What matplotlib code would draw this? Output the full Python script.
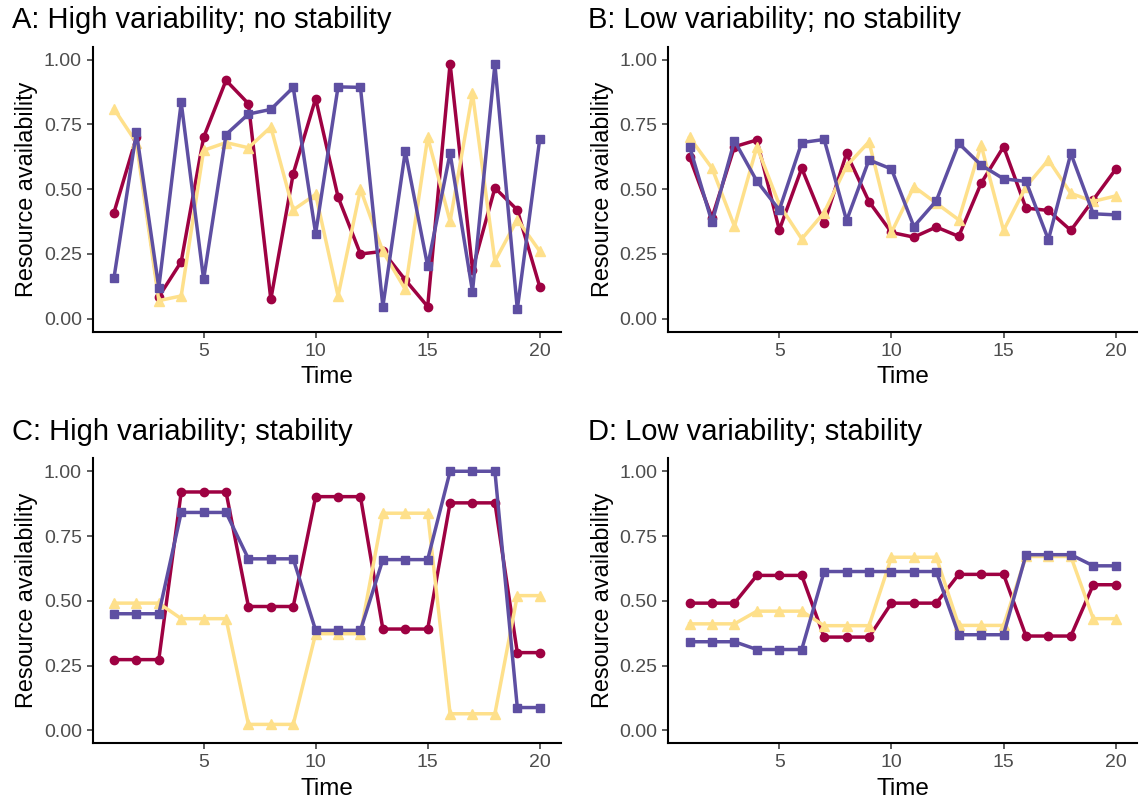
import numpy as np
import matplotlib.pyplot as plt

plt.rcParams['font.family'] = ['Liberation Sans', 'DejaVu Sans']

time = np.arange(1, 21)

# panel A: high variability, no stability
a_red = [0.41, 0.70, 0.085, 0.22, 0.70, 0.92, 0.83, 0.075, 0.56, 0.85,
         0.47, 0.25, 0.26, 0.15, 0.047, 0.985, 0.19, 0.505, 0.42, 0.124]
a_yellow = [0.81, 0.68, 0.07, 0.088, 0.65, 0.68, 0.66, 0.74, 0.42, 0.48,
            0.088, 0.50, 0.26, 0.113, 0.70, 0.376, 0.87, 0.222, 0.383, 0.261]
a_blue = [0.158, 0.72, 0.12, 0.835, 0.152, 0.711, 0.79, 0.808, 0.893, 0.329,
          0.895, 0.893, 0.047, 0.646, 0.203, 0.639, 0.105, 0.982, 0.037, 0.693]

# panel B: low variability, no stability
b_red = [0.623, 0.39, 0.664, 0.69, 0.343, 0.581, 0.369, 0.638, 0.452, 0.333,
         0.315, 0.354, 0.318, 0.523, 0.664, 0.427, 0.418, 0.341, 0.459, 0.577]
b_yellow = [0.70, 0.581, 0.357, 0.664, 0.44, 0.308, 0.41, 0.59, 0.683, 0.333,
            0.51, 0.446, 0.382, 0.67, 0.341, 0.51, 0.613, 0.484, 0.453, 0.474]
b_blue = [0.664, 0.372, 0.687, 0.531, 0.42, 0.68, 0.692, 0.379, 0.613, 0.578,
          0.356, 0.455, 0.677, 0.593, 0.54, 0.53, 0.305, 0.638, 0.405, 0.401]

# panel C: high variability, stability
c_red = [0.273] * 3 + [0.92] * 3 + [0.478] * 3 + [0.902] * 3 + [0.391] * 3 + [0.878] * 3 + [0.30] * 2
c_yellow = [0.491] * 3 + [0.431] * 3 + [0.023] * 3 + [0.373] * 3 + [0.838] * 3 + [0.064] * 3 + [0.52] * 2
c_blue = [0.45] * 3 + [0.841] * 3 + [0.662] * 3 + [0.386] * 3 + [0.659] * 3 + [1.00] * 3 + [0.088] * 2

# panel D: low variability, stability
d_red = [0.491] * 3 + [0.598] * 3 + [0.36] * 3 + [0.491] * 3 + [0.602] * 3 + [0.364] * 3 + [0.562] * 2
d_yellow = [0.411] * 3 + [0.46] * 3 + [0.404] * 3 + [0.668] * 3 + [0.405] * 3 + [0.671] * 3 + [0.431] * 2
d_blue = [0.342] * 3 + [0.312] * 3 + [0.613] * 6 + [0.369] * 3 + [0.678] * 3 + [0.635] * 2

titles = ["A: High variability; no stability", "B: Low variability; no stability",
          "C: High variability; stability", "D: Low variability; stability"]
panels = [(a_red, a_yellow, a_blue), (b_red, b_yellow, b_blue),
          (c_red, c_yellow, c_blue), (d_red, d_yellow, d_blue)]

RED = '#9E0142'
YELLOW = '#FEE08B'
BLUE = '#5E4FA2'

W, H = 1139, 807
fig = plt.figure(figsize=(W / 100, H / 100), dpi=100)

# panel boxes in pixels: left, top, right, bottom
boxes = [(92.7, 46.7, 561, 331.7), (668.3, 46.7, 1137, 331.7),
         (92.7, 458.3, 561, 743.3), (668.3, 458.3, 1137, 743.3)]
title_x = [12, 588]
title_y = [28.5, 440]

for i, (box, title, (r, yl, b)) in enumerate(zip(boxes, titles, panels)):
    l, t, rr, bt = box
    ax = fig.add_axes([l / W, 1 - bt / H, (rr - l) / W, (bt - t) / H])
    ax.plot(time, r, color=RED, lw=2.5, marker='o', ms=6, zorder=3)
    ax.plot(time, yl, color=YELLOW, lw=2.5, marker='^', ms=7.5, zorder=4)
    ax.plot(time, b, color=BLUE, lw=2.5, marker='s', ms=6.3, zorder=5)
    ax.set_xlim(0.05, 20.95)
    ax.set_ylim(-0.05, 1.05)
    ax.set_xticks([5, 10, 15, 20])
    ax.set_yticks([0, 0.25, 0.5, 0.75, 1.0])
    ax.set_yticklabels(['0.00', '0.25', '0.50', '0.75', '1.00'])
    for s in ['top', 'right']:
        ax.spines[s].set_visible(False)
    for s in ['left', 'bottom']:
        ax.spines[s].set_linewidth(1.5)
    ax.tick_params(length=4.3, width=1.1, color='#333333', labelcolor='#4D4D4D',
                   labelsize=14, pad=3.5)
    ax.set_xlabel('Time', fontsize=17.5, labelpad=5)
    ax.set_ylabel('Resource availability', fontsize=16.8, labelpad=4)
    fig.text(title_x[i % 2] / W, 1 - title_y[i // 2] / H, title, fontsize=21,
             ha='left', va='baseline')

fig.savefig('out.png', dpi=100)
